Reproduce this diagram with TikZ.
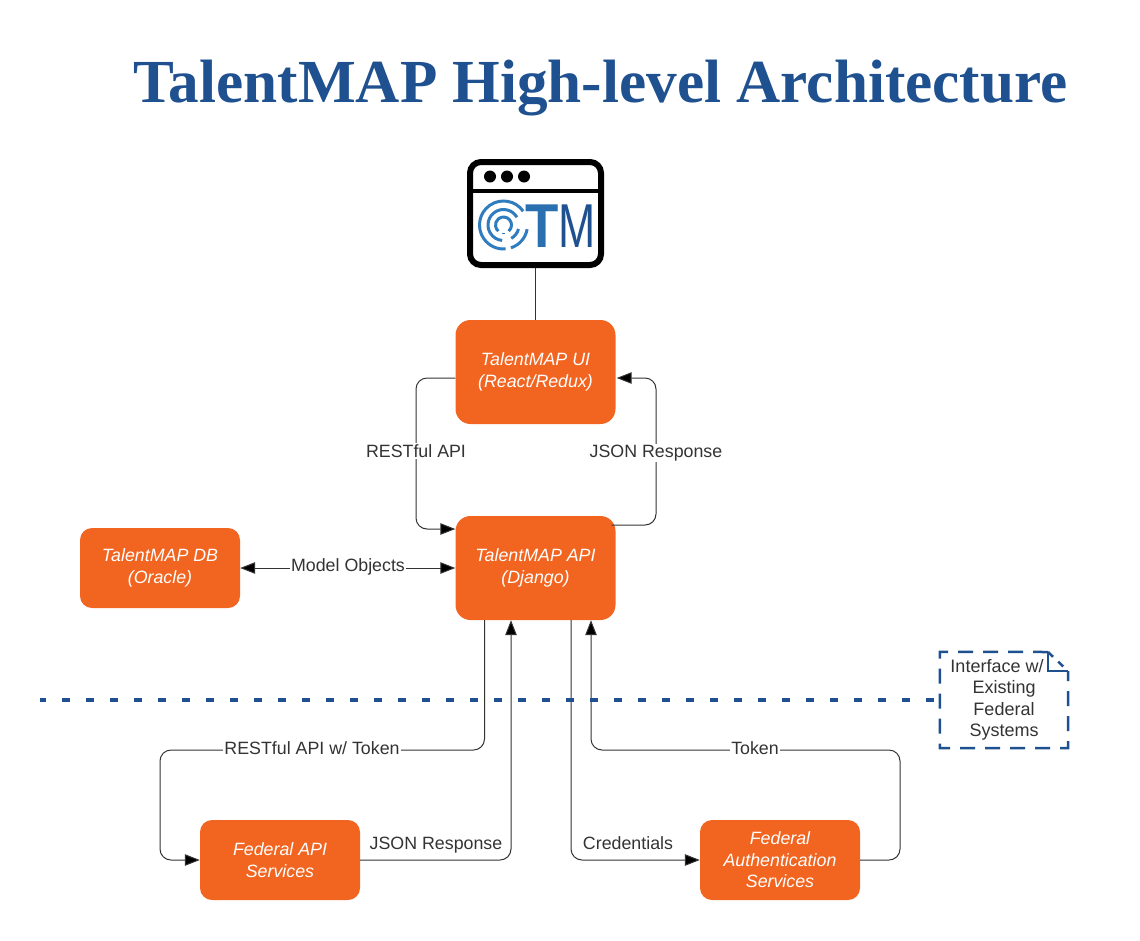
\documentclass[tikz,border=0pt]{standalone}
\usepackage{fontspec}
\setmainfont{Liberation Sans}
\newfontfamily\titlefont{Liberation Serif}
\usetikzlibrary{arrows.meta,calc}

\definecolor{tmorange}{HTML}{F16521}
\definecolor{tmblue}{HTML}{1F5190}
\definecolor{tmlogo}{HTML}{2F7DBE}
\definecolor{tmline}{HTML}{333333}

\tikzset{
 	box/.style={fill=tmorange,rounded corners=15pt,minimum width=160pt,text=white,align=center,font=\fontsize{17.8}{21.5}\selectfont\itshape,inner sep=0pt},
 	link/.style={draw=tmline,line width=1pt,rounded corners=11pt},
 	tip/.style={-{Triangle[length=15pt,width=11.5pt,fill=black]}},
 	lbl/.style={fill=white,text=tmline,inner sep=1pt,font=\fontsize{17.8}{21}\selectfont},
 	free/.style={text=tmline,inner sep=0pt,font=\fontsize{17.8}{21}\selectfont}
}

\begin{document}
\begin{tikzpicture}[x=1pt,y=-1pt]
 	\useasboundingbox (0,0) rectangle (1140,940);
 	\node (title) [text=tmblue,inner sep=0pt,font=\fontsize{61.2}{61}\selectfont\titlefont\bfseries] at (600.5,88) {TalentMAP High-level Architecture};

 	% browser window with logo
 	\node (browser) [draw=black,line width=6pt,rounded corners=11pt,minimum width=131pt,minimum height=103pt,inner sep=0pt] at (535.5,213.5) {};
 	\draw [black,line width=4.5pt] (470,191) -- (601,191);
 	\foreach \x in {490,507,524} \fill [black] (\x,176.5) circle (6);
 	\node (logoT) [text=tmlogo!70!tmblue,inner sep=0pt,xscale=.88,font=\fontsize{62}{62}\selectfont\bfseries] at (542.5,226) {T};
 	\node (logoM) [text=tmblue,inner sep=0pt,xscale=.72,font=\fontsize{62}{62}\selectfont] at (577.5,226) {M};
 	\begin{scope}[shift={(503.5,225)},x=1pt,y=1pt,tmlogo,line width=3pt]
 		\draw (35:24) arc (35:275:24);
 		\draw (-10:24) arc (-10:-72:24);
 		\draw (30:15.5) arc (30:265:15.5);
 		\draw (-15:15.5) arc (-15:-60:15.5);
 		\draw (-50:8) arc (-50:230:8);
 		\draw (0,-7.5) -- (0,-8.5);
 	\end{scope}

 	\node (ui) [box,minimum height=104pt] at (535.5,372) {TalentMAP UI\\(React/Redux)};
 	\node (api) [box,minimum height=104pt] at (535.5,568) {TalentMAP API\\(Django)};
 	\node (db) [box,minimum height=80pt,rounded corners=12pt] at (160,568) {TalentMAP DB\\(Oracle)};
 	\node (fedapi) [box,minimum height=80pt,rounded corners=12pt] at (280,860) {Federal API\\Services};
 	\node (fedauth) [box,minimum height=80pt,rounded corners=12pt] at (780,860) {Federal\\Authentication\\Services};

 	\draw [link] (browser) -- (ui);

 	\draw [link,tip] ([yshift=-6pt]ui.west) -| (416,450) |- ([yshift=39pt]api.west);
 	\node (restlbl) [lbl] at (416,451) {RESTful API};
 	\draw [link,tip] ([yshift=43pt,xshift=-4pt]api.east) -| (656,450) |- ([yshift=-6pt,xshift=1pt]ui.east);
 	\node (jsonlbl) [lbl] at (656,453) {JSON Response};

 	\draw [draw=tmline,line width=1pt,{Triangle[length=15pt,width=11.5pt,fill=black]}-{Triangle[length=15pt,width=11.5pt,fill=black]}] (db) -- (api);
 	\node (modellbl) [lbl] at (348,567) {Model Objects};

 	\draw [link,tip] ([xshift=-51pt]api.south) |- (312,750) -| (160,800) |- (fedapi.west);
 	\node (tokenlbl) [lbl] at (312,748) {RESTful API w/ Token};
 	\draw [link,tip] (fedapi.east) -| ([xshift=-24.5pt]api.south);
 	\node (fedjson) [free] at (436,845) {JSON Response};

 	\draw [link,tip] ([xshift=35.5pt]api.south) |- (fedauth.west);
 	\node (credlbl) [free] at (628,843) {Credentials};
 	\draw [link,tip] (fedauth.east) -| (900,800) |- (745,750) -| ([xshift=55.5pt]api.south);
 	\node (toklbl) [lbl] at (755,748) {Token};

 	% boundary of the federal systems
 	\coordinate (edge) at (40,700);
 	\coordinate (fold) at (1048,652);
 	\coordinate (foldend) at (1068,671);
 	\node (note) [text=tmline,inner sep=0pt,align=center,minimum width=128pt,minimum height=96pt,font=\fontsize{18}{21.4}\selectfont] at (1004,700) {Interface w/\hspace*{14pt}\\Existing\\Federal\\Systems};
 	\draw [tmblue,line width=4pt,dash pattern=on 8pt off 16pt,dash phase=2pt] (edge) -- (note.west);
 	\draw [tmblue,line width=2.5pt,dash pattern=on 15pt off 10pt] (fold) -- (note.north west) -- (note.south west) -- (note.south east) -- (foldend);
 	\draw [tmblue,line width=2.5pt,dash pattern=on 7pt off 7pt] (fold) -- (foldend);
 	\draw [tmblue,line width=2pt] (fold) |- (foldend);
\end{tikzpicture}
\end{document}
